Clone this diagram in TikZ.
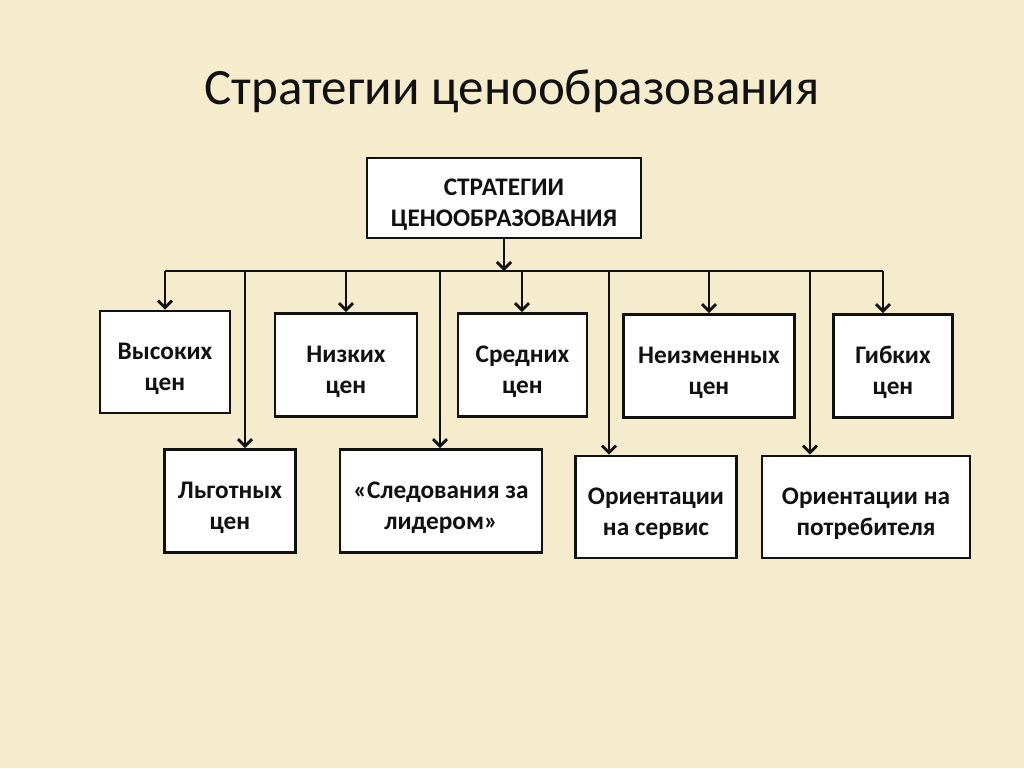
\documentclass[tikz,border=0pt]{standalone}
\usepackage{fontspec}
\setmainfont{Carlito}
\usetikzlibrary{arrows.meta,positioning}
\definecolor{Paper}{HTML}{F5ECCD}
\definecolor{Ink}{HTML}{111111}
\newcommand\lift{\rule{0pt}{17pt}}

\begin{document}
\begin{tikzpicture}[x=0.02cm,y=-0.02cm,>={Straight Barb[length=4pt,width=8pt]},
  box/.style={draw=Ink,line width=1.6pt,fill=white,align=center,inner sep=2pt,
    font=\fontsize{14.4}{17.5}\selectfont\bfseries,text=Ink},
  link/.style={draw=Ink,line width=1.6pt}]
  \fill[Paper] (0,0) rectangle (1024,768);
  \useasboundingbox (0,0) rectangle (1024,768);
  \node[font=\fontsize{29}{34}\selectfont,text=Ink] (title) at (512,91) {Стратегии ценообразования};
  % root
  \node[box,minimum width=5.48cm,minimum height=1.6cm] (root) at (504,198) {\lift СТРАТЕГИИ\\ЦЕНООБРАЗОВАНИЯ};
  % first row
  \node[box,minimum width=2.6cm,minimum height=2.04cm] (vys) at (165,362) {\lift Высоких\\цен};
  \node[box,minimum width=2.84cm,minimum height=2.06cm] (niz) at (346,365) {\lift Низких\\цен};
  \node[box,minimum width=2.58cm,minimum height=2.06cm] (sred) at (522.5,365) {\lift Средних\\цен};
  \node[box,minimum width=3.42cm,minimum height=2.06cm] (neizm) at (709,366) {\lift Неизменных\\цен};
  \node[box,minimum width=2.38cm,minimum height=2.06cm] (gib) at (893,366) {\lift Гибких\\цен};
  % second row
  \node[box,minimum width=2.62cm,minimum height=2.06cm] (lgot) at (230,501) {\lift Льготных\\цен};
  \node[box,minimum width=4.04cm,minimum height=2.06cm] (sled) at (441,501) {\lift «Следования за\\лидером»};
  \node[box,minimum width=3.22cm,minimum height=2.04cm] (serv) at (656,507) {\lift Ориентации\\на сервис};
  \node[box,minimum width=4.16cm,minimum height=2.04cm] (potr) at (866,507) {\lift Ориентации на\\потребителя};
  % bus taps
  \foreach \n/\x in {vys/165,lgot/245,niz/346,sled/440,sred/522,serv/609,neizm/709,potr/810,gib/883}
    \coordinate (t-\n) at (\x,271);
  \draw[link] (t-vys) -- (t-gib);
  \draw[link,->] (root.south) -- (root.south |- t-vys);
  \foreach \n in {vys,lgot,niz,sled,sred,serv,neizm,potr,gib}
    \draw[link,->] (t-\n) -- (t-\n |- \n.north);
\end{tikzpicture}
\end{document}
